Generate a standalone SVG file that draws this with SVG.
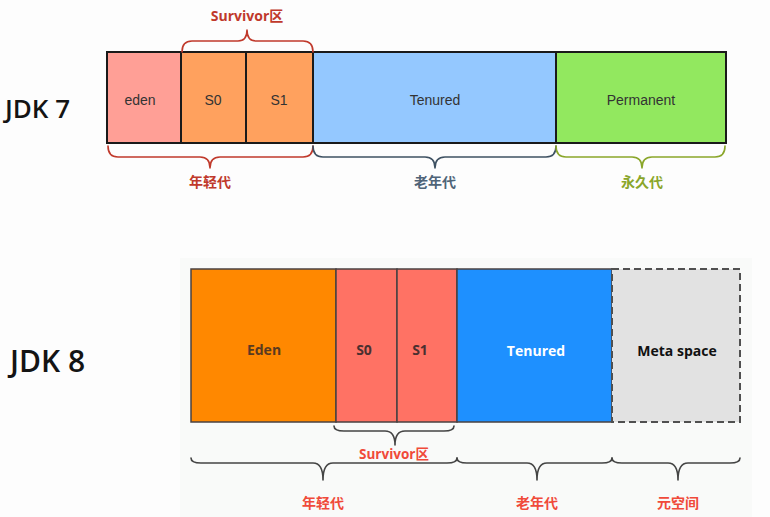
<svg xmlns="http://www.w3.org/2000/svg" width="770" height="517" viewBox="0 0 770 517">
<style>
.jdk{font-family:"Open Sans","Liberation Sans",sans-serif;font-weight:600;fill:#141414}
.t7{font-family:"Liberation Sans",Arial,sans-serif;font-size:14px;fill:#333;text-anchor:middle}
.t8{font-family:"Open Sans","Liberation Sans",sans-serif;font-weight:700;font-size:14px;text-anchor:middle}
.cn{font-family:"Noto Sans CJK SC","Liberation Sans",sans-serif;font-weight:700;font-size:14px;text-anchor:middle}
.sv{font-family:"Open Sans","Noto Sans CJK SC",sans-serif;font-weight:700;text-anchor:middle}
.b7{stroke:#1a1a1a;stroke-width:2}
.b8{stroke:#4a4242;stroke-width:1.5}
.br{fill:none;stroke-width:1.6;stroke-linecap:round;stroke-linejoin:round}
</style>
<rect width="770" height="517" fill="#fdfdfd"/>
<rect x="180" y="258" width="572" height="259" fill="#f9faf9"/>

<text class="jdk" x="5" y="118" font-size="26">JDK 7</text>
<text class="jdk" x="10" y="372" font-size="30">JDK 8</text>

<g id="jdk7-eden"><rect class="b7" x="107" y="52" width="74" height="91" fill="#ff9f96"/><text class="t7" x="140" y="105">eden</text></g>
<g id="jdk7-s0"><rect class="b7" x="181" y="52" width="65" height="91" fill="#ffa15e"/><text class="t7" x="213" y="105">S0</text></g>
<g id="jdk7-s1"><rect class="b7" x="246" y="52" width="67" height="91" fill="#ffa15e"/><text class="t7" x="279" y="105">S1</text></g>
<g id="jdk7-tenured"><rect class="b7" x="313" y="52" width="243" height="91" fill="#94c8ff"/><text class="t7" x="435" y="105" fill="#1e2a40">Tenured</text></g>
<g id="jdk7-permanent"><rect class="b7" x="556" y="52" width="170" height="91" fill="#92e85f"/><text class="t7" x="641" y="105">Permanent</text></g>

<g id="jdk8-eden"><rect class="b8" x="191" y="269" width="145" height="153" fill="#ff8800"/><text class="t8" x="264" y="355" fill="#5a3a20">Eden</text></g>
<g id="jdk8-s0"><rect class="b8" x="336" y="269" width="61" height="153" fill="#ff7264"/><text class="t8" x="364" y="355" fill="#4a3030">S0</text></g>
<g id="jdk8-s1"><rect class="b8" x="397" y="269" width="60" height="153" fill="#ff7264"/><text class="t8" x="420" y="355" fill="#4a3030">S1</text></g>
<g id="jdk8-tenured"><rect class="b8" x="457" y="269" width="155" height="153" fill="#1e90ff"/><text class="t8" x="536" y="356" fill="#ffffff" font-size="15">Tenured</text></g>
<g id="jdk8-meta"><rect x="612" y="269" width="128" height="153" fill="#e2e2e2" stroke="#505050" stroke-width="2" stroke-dasharray="7,4"/><text class="t8" x="677" y="356" fill="#111" font-size="15">Meta space</text></g>

<g id="connectors">
<path class="br" stroke="#c0392b" d="M182 52 Q182 41 192 41 L238 41 Q247 41 247 30 Q247 41 256 41 L303 41 Q313 41 313 52"/>
<path class="br" stroke="#c0392b" d="M108 146 Q108 157 118 157 L200 157 Q210 157 210 168 Q210 157 220 157 L303 157 Q313 157 313 146"/>
<path class="br" stroke="#3e5162" d="M313 146 Q313 157 323 157 L425 157 Q435 157 435 168 Q435 157 445 157 L546 157 Q556 157 556 146"/>
<path class="br" stroke="#8aa62a" d="M556 146 Q556 157 566 157 L632 157 Q642 157 642 168 Q642 157 652 157 L715 157 Q725 157 725 146"/>

<path class="br" stroke="#444" d="M334 426 Q334 431 344 431 L385 431 Q395 431 395 445 Q395 431 405 431 L444 431 Q454 431 454 426"/>
<path class="br" stroke="#444" d="M191 458 Q191 463 201 463 L313 463 Q323 463 323 480 Q323 463 333 463 L447 463 Q457 463 457 458"/>
<path class="br" stroke="#444" d="M457 458 Q457 463 467 463 L527 463 Q537 463 537 480 Q537 463 547 463 L602 463 Q612 463 612 458"/>
<path class="br" stroke="#444" d="M612 458 Q612 463 622 463 L668 463 Q678 463 678 480 Q678 463 688 463 L730 463 Q740 463 740 458"/>
</g>

<text class="sv" x="247" y="21" font-size="14" fill="#c0392b">Survivor区</text>
<text class="cn" x="210" y="187" fill="#c0392b">年轻代</text>
<text class="cn" x="435" y="187" fill="#4f6478">老年代</text>
<text class="cn" x="642" y="187" fill="#8aa62a">永久代</text>

<text class="sv" x="394" y="459" font-size="13.5" fill="#f04a3a">Survivor区</text>
<text class="cn" x="323" y="508" fill="#f04a3a">年轻代</text>
<text class="cn" x="537" y="508" fill="#f04a3a">老年代</text>
<text class="cn" x="678" y="508" fill="#f04a3a">元空间</text>
</svg>
